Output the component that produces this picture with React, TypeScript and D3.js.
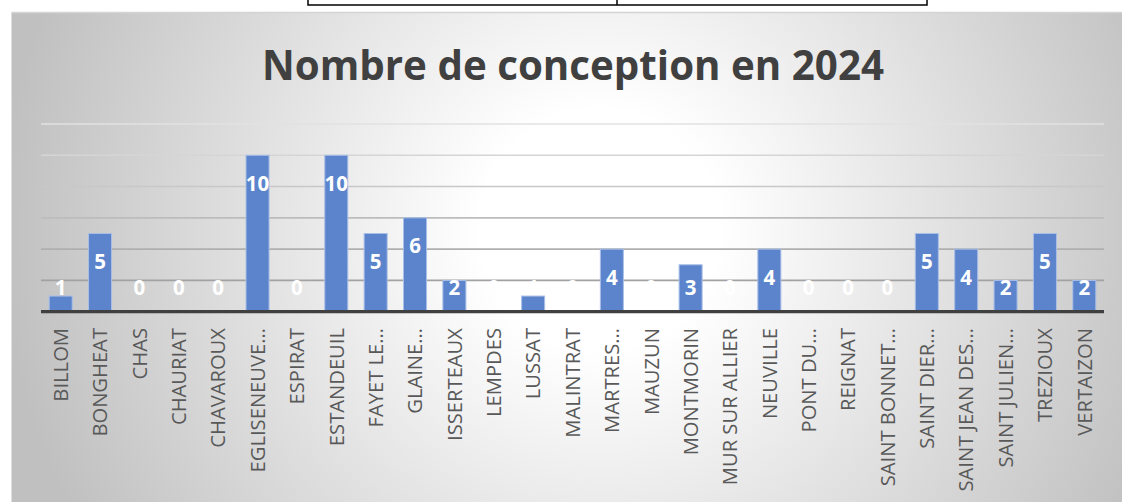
import React from "react";
import * as d3 from "d3";

const categories: string[] = [
  "BILLOM", "BONGHEAT", "CHAS", "CHAURIAT", "CHAVAROUX", "EGLISENEUVE…", "ESPIRAT",
  "ESTANDEUIL", "FAYET LE…", "GLAINE…", "ISSERTEAUX", "LEMPDES", "LUSSAT", "MALINTRAT",
  "MARTRES…", "MAUZUN", "MONTMORIN", "MUR SUR ALLIER", "NEUVILLE", "PONT DU…", "REIGNAT",
  "SAINT BONNET…", "SAINT DIER…", "SAINT JEAN DES…", "SAINT JULIEN…", "TREZIOUX", "VERTAIZON",
];
const values: number[] = [1, 5, 0, 0, 0, 10, 0, 10, 5, 6, 2, 0, 1, 0, 4, 0, 3, 0, 4, 0, 0, 0, 5, 4, 2, 5, 2];
const gridTicks: number[] = [2, 4, 6, 8, 10, 12];
const title = "Nombre de conception en 2024";

const W = 1122;
const H = 502;

export default function App() {
  const left = 41, right = 1104, top = 124, bottom = 311.7;
  const x = d3.scaleBand<string>().domain(categories).range([left, right]).paddingInner(0.415).paddingOuter(0.2075);
  const y = d3.scaleLinear().domain([0, 12]).range([bottom, top]);
  const gridColor = d3.scaleLinear<string>().domain([12, 2]).range(["#e2e2e2", "#a2a2a2"]);
  return (
    <svg width={W} height={H} style={{ position: "absolute", left: 0, top: 0 }}>
      <defs>
        <radialGradient id="bg" gradientUnits="userSpaceOnUse" cx={600} cy={230} r={600}>
          <stop offset="0" stopColor="#ffffff" />
          <stop offset="0.2" stopColor="#ffffff" />
          <stop offset="1" stopColor="#c0c0c0" />
        </radialGradient>
      </defs>
      <rect x={0} y={0} width={W} height={H} fill="#ffffff" />
      {/* table fragment at top */}
      <rect x={308} y={-2} width={619} height={7} fill="none" stroke="#000" strokeWidth={1.5} />
      <line x1={617} x2={617} y1={0} y2={5} stroke="#000" strokeWidth={1.5} />
      {/* chart area */}
      <rect x={11.5} y={12.5} width={W} height={H} fill="url(#bg)" />
      <line x1={11.5} x2={W} y1={12.5} y2={12.5} stroke="#d4d4d4" strokeWidth={1.5} />
      <text x={573} y={80} textAnchor="middle" fontFamily="'Open Sans', sans-serif" fontWeight={700} fontSize={40.3} fill="#404040">
        {title}
      </text>
      {gridTicks.map((t) => (
        <line key={t} x1={left} x2={right} y1={y(t)} y2={y(t)} stroke={gridColor(t)} strokeWidth={1.6} />
      ))}
      {categories.map((c, i) => {
        const v = values[i];
        const bx = x(c)!;
        const bw = x.bandwidth();
        return (
          <g key={c}>
            {v > 0 && (
              <rect x={bx} y={y(v)} width={bw} height={y(0) - y(v)} fill="#5b84cc" stroke="#a9bfe7" strokeWidth={1} />
            )}
          </g>
        );
      })}
      <line x1={left} x2={right} y1={bottom} y2={bottom} stroke="#404040" strokeWidth={3.3} />
      {categories.map((c, i) => {
        const v = values[i];
        const cx = x(c)! + x.bandwidth() / 2;
        const ly = Math.min(y(v) + 28, y(0) - 24);
        return (
          <g key={"l" + c}>
            <text x={cx} y={ly} dy="0.36em" textAnchor="middle" fontFamily="'Open Sans', sans-serif" fontWeight={700} fontSize={20.5} fill="#ffffff">
              {v}
            </text>
            <text
              transform={`translate(${cx},328) rotate(-90)`}
              dy="0.36em"
              textAnchor="end"
              fontFamily="'Open Sans', sans-serif"
              fontSize={20.2}
              fill="#595959"
            >
              {c}
            </text>
          </g>
        );
      })}
    </svg>
  );
}
